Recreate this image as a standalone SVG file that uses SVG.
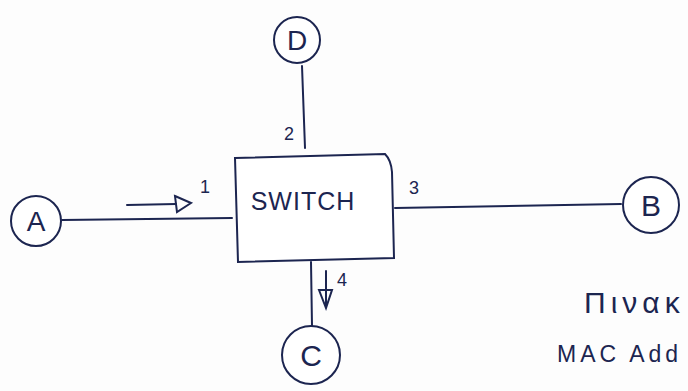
<svg xmlns="http://www.w3.org/2000/svg" width="688" height="391" viewBox="0 0 688 391">
<style>
.ln{stroke:#1c2550;stroke-width:2;fill:none;stroke-linecap:round}
.nd{stroke:#1c2550;stroke-width:2;fill:#fff}
.t{font-family:"Liberation Sans",Arial,sans-serif;fill:#1c2550}
.lbl{font-size:18px}
.big{font-size:24px;text-anchor:middle}
</style>
<rect width="688" height="391" fill="#fdfdfd"/>
<g id="connectors">
<path class="ln" d="M302 66 L305 148"/>
<path class="ln" d="M62 220 L232 218"/>
<path class="ln" d="M395 208 L621 204"/>
<path class="ln" d="M311 262 L312 326"/>
<path class="ln" d="M127 205 L176 204"/>
<path class="ln" d="M175 196 L191 203 L177 212 Z"/>
<path class="ln" d="M326 271 L326 306"/>
<path class="ln" d="M319 290 L326 308 L332 290 Z"/>
</g>
<g id="switch">
<path class="nd" d="M235 158 L385 154 Q391 160 392 172 L394 258 L238 262 Z"/>
<text class="t" x="303" y="210" style="font-size:25px;text-anchor:middle;letter-spacing:1px">SWITCH</text>
</g>
<g id="nodeD">
<circle class="nd" cx="297" cy="40" r="23"/>
<text class="t big" x="297" y="50" style="font-size:28px">D</text>
</g>
<g id="nodeA">
<circle class="nd" cx="36" cy="221" r="25"/>
<text class="t big" x="36" y="231" style="font-size:28px">A</text>
</g>
<g id="nodeB">
<circle class="nd" cx="651" cy="205" r="28"/>
<text class="t big" x="651" y="216" style="font-size:30px">B</text>
</g>
<g id="nodeC">
<circle class="nd" cx="311" cy="355" r="29"/>
<text class="t big" x="311" y="366" style="font-size:30px">C</text>
</g>
<g id="labels">
<text class="t lbl" x="284" y="140">2</text>
<text class="t lbl" x="200" y="193">1</text>
<text class="t lbl" x="409" y="194">3</text>
<text class="t lbl" x="337" y="286">4</text>
<text class="t" x="584" y="313" style="font-size:30px;letter-spacing:5px">Πινακ</text>
<text class="t" x="557" y="362" style="font-size:23px;letter-spacing:4px">MAC Add</text>
</g>
</svg>
